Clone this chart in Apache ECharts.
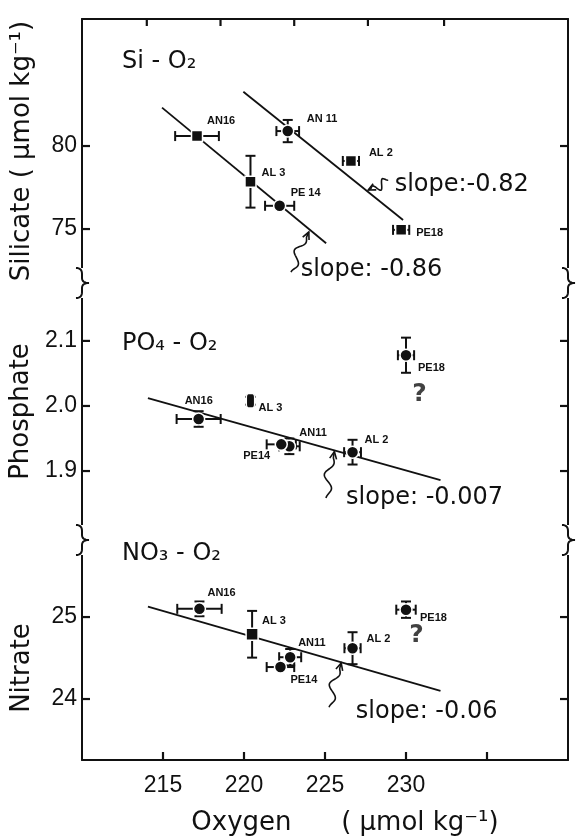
<!DOCTYPE html>
<html><head><meta charset="utf-8">
<script src="https://cdn.jsdelivr.net/npm/echarts@6/dist/echarts.min.js"></script>
<style>html,body{margin:0;padding:0;background:#fff}#c{width:576px;height:837px}</style>
</head><body><div id="c"></div>
<script>
// ---------------- data ----------------
const stations = ['AN16','AN11','AL3','PE14','AL2','PE18'];
const siLabels = ['AN16','AN 11','AL 3','PE 14','AL 2','PE18'];
const poLabels = ['AN16','AN11','AL 3','PE14','AL 2','PE18'];
const noLabels = ['AN16','AN11','AL 3','PE14','AL 2','PE18'];

const oxygenTicks = [215, 220, 225, 230, 235];
const oxygenTickLabels = [215, 220, 225, 230];
const topTicks = [214.0, 218.55, 223.1, 227.65, 232.35];

const siTicks = [75, 80];
const poTicks = [1.9, 2.0, 2.1];
const noTicks = [24, 25];

const siOxygen = [217.1, 222.7, 220.4, 222.2, 226.6, 229.7];
const siValue  = [80.6, 80.9, 77.85, 76.4, 79.1, 74.95];
const siOxErr  = [1.35, 0.7, 0, 0.9, 0.5, 0.5];
const siValErr = [0, 0.67, 1.56, 0, 0, 0];

const poOxygen = [217.2, 222.8, 220.4, 222.3, 226.7, 230.0];
const poValue  = [1.980, 1.938, 2.008, 1.941, 1.929, 2.078];
const poOxErr  = [1.36, 0.64, 0, 0.9, 0.52, 0.5];
const poValErr = [0.012, 0.012, 0.006, 0, 0.019, 0.027];

const noOxygen = [217.25, 222.85, 220.5, 222.25, 226.7, 230.0];
const noValue  = [25.10, 24.51, 24.79, 24.39, 24.62, 25.09];
const noOxErr  = [1.37, 0.68, 0, 0.85, 0.5, 0.6];
const noValErr = [0.09, 0.1, 0.285, 0, 0.195, 0.1];

const siFitA = [[214.94, 82.31], [225.07, 74.14]];
const siFitB = [[219.96, 83.27], [229.82, 75.54]];
const poFit  = [[214.07, 2.012], [232.13, 1.886]];
const noFit  = [[214.07, 25.126], [232.13, 24.10]];

const siSlopeText  = ['slope:-0.82', 'slope: -0.86'];
const siSlopeAt    = [[229.3, 77.65], [223.5, 72.53]];
const siArrowTip   = [[227.67, 77.35], [224.0, 74.82]];
const siArrowTail  = [[228.9, 77.95], [222.9, 72.41]];
const poSlopeText  = ['slope: -0.007'];
const poSlopeAt    = [[226.3, 1.8585]];
const poArrowTip   = [[225.58, 1.9298]];
const poArrowTail  = [[225.06, 1.8585]];
const noSlopeText  = ['slope: -0.06'];
const noSlopeAt    = [[226.9, 23.84]];
const noArrowTip   = [[226.0, 24.44]];
const noArrowTail  = [[225.25, 23.90]];

const poQuestion = [[230.83, 2.017]];
const noQuestion = [[230.65, 24.77]];

const panelTitles = ['Si - O\u2082', 'PO\u2084 - O\u2082', 'NO\u2083 - O\u2082'];

// ---------------- styles ----------------
const INK = '#111';
const GRID_LEFT = 82, GRID_RIGHT = 8, CHART_W = 576;
const panels = [
  {top: 19, height: 264, min: 71.75, max: 87.65, ticks: siTicks, fmt: v => String(v), name: 'Silicate ( \u00b5mol kg\u207b\u00b9)', namePad: [0,0,0,0]},
  {top: 283, height: 257, min: 1.794, max: 2.189, ticks: poTicks, fmt: v => v.toFixed(1), name: 'Phosphate', namePad: [0,0,0,0]},
  {top: 540, height: 220, min: 23.256, max: 25.94, ticks: noTicks, fmt: v => String(v), name: 'Nitrate', namePad: [0,36,0,0]}
];
const markerSi = [['rect',11],['circle',12],['rect',11],['circle',12],['rect',11],['rect',11]];
const markerPo = [['circle',12],['circle',12],['roundRect',[8,15]],['circle',12],['circle',12],['circle',12]];
const markerNo = [['circle',12],['circle',12],['rect',12],['circle',12],['circle',12],['circle',12]];
const offSi = [[10,-15],[19,-12],[11,-9],[11,-13],[18,-8],[15,3]];
const offPo = [[-14,-18],[10,-13],[8,7],[-38,12],[12,-12],[12,13]];
const offNo = [[8,-16],[8,-14],[10,-13],[10,13],[14,-9],[14,8]];

const tickFont = {fontFamily: 'Liberation Sans Narrow, Liberation Sans, sans-serif', fontSize: 23, color: INK};
const nameFont = {fontFamily: 'DejaVu Sans, sans-serif', fontSize: 26, color: INK};
const lbl = {fontFamily: 'Liberation Sans, sans-serif', fontWeight: 'bold', fontSize: 11, color: INK};
const slopeFont = '24px "DejaVu Sans", sans-serif';

const grid = panels.map(p => ({left: GRID_LEFT, right: GRID_RIGHT, top: p.top, height: p.height}));
const axisLineStyle = {color: INK, width: 2};

const xAxis = panels.map((p, i) => ({
  gridIndex: i, type: 'value', min: 210, max: 240,
  axisLine: {show: i === 2, lineStyle: axisLineStyle},
  axisTick: {show: false},
  axisLabel: {show: i === 2, customValues: oxygenTickLabels, margin: 14, ...tickFont},
  splitLine: {show: false},
  name: i === 2 ? 'Oxygen      ( \u00b5mol kg\u207b\u00b9)' : '',
  nameLocation: 'middle', nameGap: 50,
  nameTextStyle: {...nameFont, padding: [0, 0, 0, 40]}
}));
xAxis.push({
  gridIndex: 0, type: 'value', min: 210, max: 240, position: 'top',
  axisLine: {show: true, lineStyle: axisLineStyle},
  axisTick: {show: false}, axisLabel: {show: false}, splitLine: {show: false}
});

const yAxis = panels.map((p, i) => ({
  gridIndex: i, type: 'value', min: p.min, max: p.max, position: 'left',
  axisLine: {show: true, lineStyle: axisLineStyle},
  axisTick: {show: false},
  axisLabel: {show: true, customValues: p.ticks, formatter: p.fmt, margin: 5, ...tickFont},
  splitLine: {show: false},
  name: p.name, nameLocation: 'middle', nameGap: 47, nameRotate: 90,
  nameTextStyle: {...nameFont, padding: p.namePad}
}));
panels.forEach((p, i) => yAxis.push({
  gridIndex: i, type: 'value', min: p.min, max: p.max, position: 'right',
  axisLine: {show: true, lineStyle: axisLineStyle},
  axisTick: {show: false}, axisLabel: {show: false}, splitLine: {show: false}
}));

function fitSeries(i, pts) {
  return {type: 'line', xAxisIndex: i, yAxisIndex: i, data: pts, showSymbol: false, silent: true,
    lineStyle: {color: INK, width: 1.8}, z: 2};
}
function errSeries(i, xs, ys, xe, ye) {
  return {
    type: 'custom', xAxisIndex: i, yAxisIndex: i, z: 3, silent: true,
    data: xs.map((x, k) => [x, ys[k], xe[k], ye[k]]),
    renderItem: (params, api) => {
      const x = api.value(0), y = api.value(1), dx = api.value(2), dy = api.value(3);
      const ch = [];
      const st = {stroke: INK, lineWidth: 2};
      if (dx > 0) {
        const a = api.coord([x - dx, y]), b = api.coord([x + dx, y]);
        ch.push({type: 'line', shape: {x1: a[0], y1: a[1], x2: b[0], y2: b[1]}, style: st});
        ch.push({type: 'line', shape: {x1: a[0], y1: a[1] - 5, x2: a[0], y2: a[1] + 5}, style: st});
        ch.push({type: 'line', shape: {x1: b[0], y1: b[1] - 5, x2: b[0], y2: b[1] + 5}, style: st});
      }
      if (dy > 0) {
        const a = api.coord([x, y - dy]), b = api.coord([x, y + dy]);
        ch.push({type: 'line', shape: {x1: a[0], y1: a[1], x2: b[0], y2: b[1]}, style: st});
        ch.push({type: 'line', shape: {x1: a[0] - 5, y1: a[1], x2: a[0] + 5, y2: a[1]}, style: st});
        ch.push({type: 'line', shape: {x1: b[0] - 5, y1: b[1], x2: b[0] + 5, y2: b[1]}, style: st});
      }
      return {type: 'group', children: ch};
    }
  };
}
function pointSeries(i, xs, ys, names, markers, offs) {
  return {
    type: 'scatter', xAxisIndex: i, yAxisIndex: i, z: 4,
    data: xs.map((x, k) => ({
      value: [x, ys[k]], symbol: markers[k][0], symbolSize: markers[k][1],
      label: {show: true, position: 'inside', align: 'left', verticalAlign: 'middle',
        offset: offs[k], formatter: names[k], ...lbl}
    })),
    itemStyle: {color: INK, borderColor: '#fff', borderWidth: 1.5, opacity: 1}
  };
}
function annotSeries(i, texts, at, tips, tails) {
  return {
    type: 'custom', xAxisIndex: i, yAxisIndex: i, z: 5, silent: true,
    data: texts.map((t, k) => [at[k][0], at[k][1], tips[k][0], tips[k][1], tails[k][0], tails[k][1]]),
    renderItem: (params, api) => {
      const t = api.coord([api.value(0), api.value(1)]);
      const tip = api.coord([api.value(2), api.value(3)]);
      const tail = api.coord([api.value(4), api.value(5)]);
      const dx = tip[0] - tail[0], dy = tip[1] - tail[1];
      const L = Math.hypot(dx, dy), ux = dx / L, uy = dy / L, nx = -uy, ny = ux;
      const pts = [[tail[0], tail[1]]];
      const N = 36;
      for (let s = 1; s <= N; s++) {
        const f = s / N;
        const amp = 6 * Math.sin(Math.PI * Math.min(1, f * 1.15));
        const w = amp * Math.sin(2 * Math.PI * 1.5 * f);
        pts.push([tail[0] + dx * f + nx * w, tail[1] + dy * f + ny * w]);
      }
      const ah = 8, ang = 0.45;
      const bx = -ux, by = -uy;
      const c = Math.cos(ang), sN = Math.sin(ang);
      const h1 = [tip[0] + ah * (bx * c - by * sN), tip[1] + ah * (bx * sN + by * c)];
      const h2 = [tip[0] + ah * (bx * c + by * sN), tip[1] + ah * (-bx * sN + by * c)];
      return {type: 'group', children: [
        {type: 'polyline', shape: {points: pts}, style: {stroke: INK, lineWidth: 1.6, fill: null}},
        {type: 'polyline', shape: {points: [h1, tip, h2]}, style: {stroke: INK, lineWidth: 1.6, fill: null}},
        {type: 'text', x: t[0], y: t[1], style: {text: texts[params.dataIndex],
          textAlign: 'left', textVerticalAlign: 'middle', font: slopeFont, fill: INK}}
      ]};
    }
  };
}
function questionSeries(i, pts) {
  return {type: 'scatter', xAxisIndex: i, yAxisIndex: i, symbolSize: 1, silent: true,
    itemStyle: {color: 'rgba(0,0,0,0)'}, data: pts,
    label: {show: true, position: 'inside', formatter: '?', fontFamily: 'DejaVu Sans, sans-serif',
      fontWeight: 'bold', fontSize: 25, color: INK}};
}

const series = [
  fitSeries(0, siFitA), fitSeries(0, siFitB), fitSeries(1, poFit), fitSeries(2, noFit),
  errSeries(0, siOxygen, siValue, siOxErr, siValErr),
  errSeries(1, poOxygen, poValue, poOxErr, poValErr),
  errSeries(2, noOxygen, noValue, noOxErr, noValErr),
  pointSeries(0, siOxygen, siValue, siLabels, markerSi, offSi),
  pointSeries(1, poOxygen, poValue, poLabels, markerPo, offPo),
  pointSeries(2, noOxygen, noValue, noLabels, markerNo, offNo),
  annotSeries(0, siSlopeText, siSlopeAt, siArrowTip, siArrowTail),
  annotSeries(1, poSlopeText, poSlopeAt, poArrowTip, poArrowTail),
  annotSeries(2, noSlopeText, noSlopeAt, noArrowTip, noArrowTail),
  questionSeries(1, poQuestion), questionSeries(2, noQuestion)
];

// panel titles and axis-break braces
const graphic = [];
const titleY = [62, 344, 554];
panelTitles.forEach((t, i) => graphic.push({type: 'text', x: 122, y: titleY[i],
  style: {text: t, font: '24px "DejaVu Sans", sans-serif', fill: INK, textVerticalAlign: 'middle'}}));
function quad(p0, p1, p2, n) {
  const out = [];
  for (let s = 0; s <= n; s++) {
    const t = s / n, a = (1 - t) * (1 - t), b = 2 * (1 - t) * t, c = t * t;
    out.push([a * p0[0] + b * p1[0] + c * p2[0], a * p0[1] + b * p1[1] + c * p2[1]]);
  }
  return out;
}
function brace(x, j) {
  let pts = [];
  pts = pts.concat(quad([x - 6, j - 15], [x, j - 15], [x, j - 9], 8));
  pts = pts.concat(quad([x, j - 5], [x, j], [x + 7, j], 8));
  pts = pts.concat(quad([x + 7, j], [x, j], [x, j + 5], 8));
  pts = pts.concat(quad([x, j + 9], [x, j + 15], [x - 6, j + 15], 8));
  graphic.push({type: 'rect', shape: {x: x - 9, y: j - 15, width: 18, height: 30}, style: {fill: '#fff'}, z: 100});
  graphic.push({type: 'polyline', shape: {points: pts}, style: {stroke: INK, lineWidth: 2, fill: null}, z: 101});
}
[283, 540].forEach(j => { brace(GRID_LEFT, j); brace(CHART_W - GRID_RIGHT, j); });

const chart = echarts.init(document.getElementById('c'), null, {renderer: 'canvas'});
chart.setOption({animation: false, backgroundColor: '#fff', grid, xAxis, yAxis, series, graphic});

// tick marks: positions obtained from the axes' own scales
const xL = GRID_LEFT, xR = CHART_W - GRID_RIGHT;
const tickStyle = {stroke: INK, lineWidth: 2.2};
const ticks = [];
const bottomY = panels[2].top + panels[2].height, topY = panels[0].top;
oxygenTicks.forEach(v => {
  const px = chart.convertToPixel({xAxisIndex: 2}, v);
  ticks.push({type: 'line', z: 90, shape: {x1: px, y1: bottomY, x2: px, y2: bottomY - 8}, style: tickStyle});
});
topTicks.forEach(v => {
  const px = chart.convertToPixel({xAxisIndex: 3}, v);
  ticks.push({type: 'line', z: 90, shape: {x1: px, y1: topY, x2: px, y2: topY + 7}, style: tickStyle});
});
panels.forEach((p, i) => p.ticks.forEach(v => {
  const py = chart.convertToPixel({yAxisIndex: i}, v);
  ticks.push({type: 'line', z: 90, shape: {x1: xL, y1: py, x2: xL + 8, y2: py}, style: tickStyle});
  ticks.push({type: 'line', z: 90, shape: {x1: xR, y1: py, x2: xR - 8, y2: py}, style: tickStyle});
}));
chart.setOption({graphic: graphic.concat(ticks)});
</script></body></html>
